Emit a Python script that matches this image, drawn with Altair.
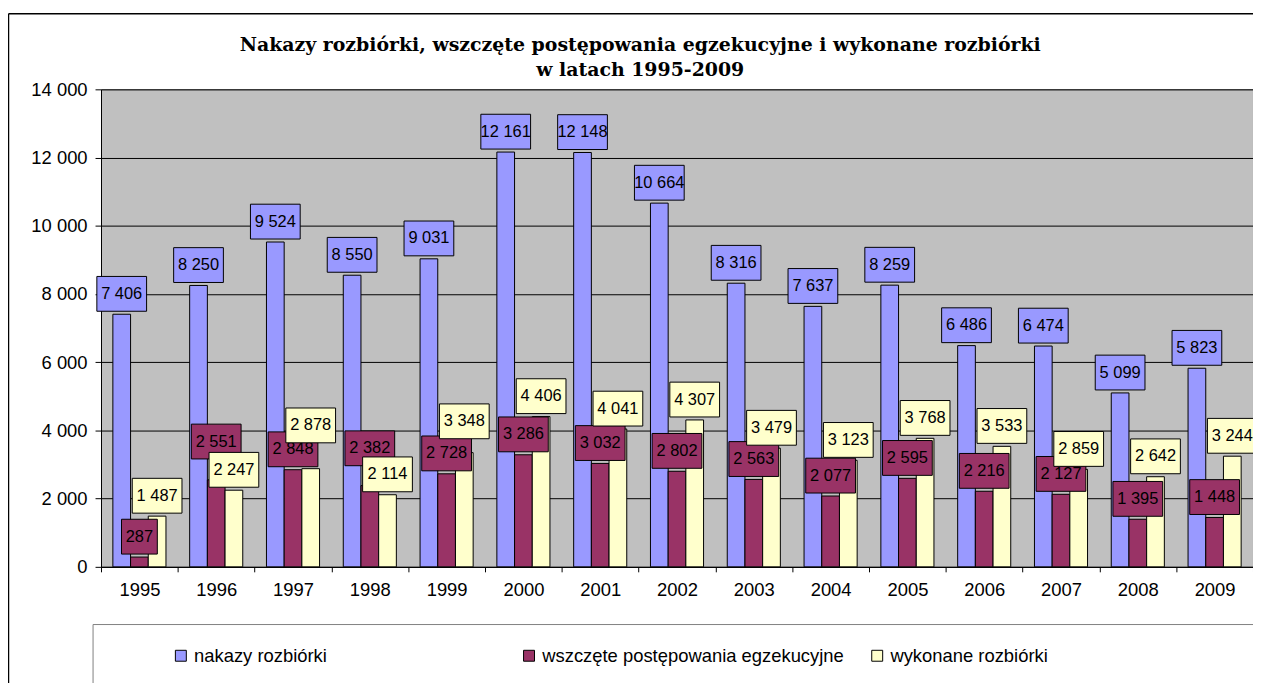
import altair as alt
import pandas as pd

years = [str(y) for y in range(1995, 2010)]
series = ["nakazy rozbiórki", "wszczęte postępowania egzekucyjne", "wykonane rozbiórki"]
nakazy = [7406, 8250, 9524, 8550, 9031, 12161, 12148, 10664, 8316, 7637, 8259, 6486, 6474, 5099, 5823]
wszczete = [287, 2551, 2848, 2382, 2728, 3286, 3032, 2802, 2563, 2077, 2595, 2216, 2127, 1395, 1448]
wykonane = [1487, 2247, 2878, 2114, 3348, 4406, 4041, 4307, 3479, 3123, 3768, 3533, 2859, 2642, 3244]
colors = ["#9999FF", "#993366", "#FFFFCC"]
y_ticks = [0, 2000, 4000, 6000, 8000, 10000, 12000, 14000]
title_lines = ["Nakazy rozbiórki, wszczęte postępowania egzekucyjne i wykonane rozbiórki",
               "w latach 1995-2009"]

# labels that were dragged upwards in the original chart (pixels)
label_nudge_px = {("1996", series[1]): 18, ("1997", series[2]): 23,
                  ("1998", series[1]): 17, ("1999", series[2]): 11}

Y_MAX = 14000
W, H = 1158, 480

rows = []
for i, yr in enumerate(years):
    for s, vals in zip(series, [nakazy, wszczete, wykonane]):
        v = vals[i]
        lab = f"{v:,}".replace(",", " ")
        nudge = label_nudge_px.get((yr, s), 0) * Y_MAX / H
        rows.append({"rok": yr, "seria": s, "wartosc": v, "etykieta": lab,
                     "y_lab": v + nudge, "szer": "w" if len(lab) > 3 else "n"})
df = pd.DataFrame(rows)

FONT = "Liberation Sans"

x_enc = alt.X("rok:N", sort=years,
              scale=alt.Scale(paddingInner=0, paddingOuter=0),
              axis=alt.Axis(title=None, labelAngle=0, tickBand="extent", ticks=True,
                            tickSize=5, tickColor="black", domainColor="black",
                            labelFontSize=18.5, labelFont=FONT, labelColor="black",
                            labelPadding=9, grid=False))
xoff_enc = alt.XOffset("seria:N", sort=series,
                       scale=alt.Scale(domain=series, paddingInner=0, paddingOuter=0.67))
y_scale = alt.Scale(domain=[0, Y_MAX], nice=False)
y_axis = alt.Axis(title=None, values=y_ticks, grid=True, gridColor="#000000",
                  gridWidth=1, tickSize=6, tickColor="black", domainColor="black",
                  labelFontSize=18.5, labelFont=FONT, labelColor="black",
                  labelPadding=8,
                  labelExpr="replace(format(datum.value, ','), ',', ' ')")
y_enc = alt.Y("wartosc:Q", scale=y_scale, axis=y_axis)
y_lab_enc = alt.Y("y_lab:Q", scale=y_scale, axis=y_axis)
fill_scale = alt.Scale(domain=series, range=colors)

bars = alt.Chart(df).mark_bar(stroke="black", strokeWidth=1).encode(
    x=x_enc, xOffset=xoff_enc, y=y_enc,
    fill=alt.Fill("seria:N", sort=series, scale=fill_scale,
                  legend=alt.Legend(title=None, orient="none", legendX=71, legendY=560,
                                    direction="horizontal", columns=3, columnPadding=24,
                                    gridAlign="all",
                                    symbolType="square", symbolSize=121,
                                    symbolStrokeColor="black", symbolStrokeWidth=1,
                                    labelFontSize=18.5, labelFont=FONT, labelColor="black",
                                    labelOffset=4, labelLimit=0)),
)

box_paths = ["M-1,-1.52L1,-1.52L1,-0.12L-1,-0.12Z",
             "M-0.72,-1.52L0.72,-1.52L0.72,-0.12L-0.72,-0.12Z"]

label_layers = []
for s in series:
    base = alt.Chart(df).transform_filter(alt.datum.seria == s)
    box = base.mark_point(filled=True, stroke="black", strokeWidth=1, opacity=1,
                          size=2500).encode(
        x=x_enc, xOffset=xoff_enc, y=y_lab_enc,
        fill=alt.Fill("seria:N", sort=series, scale=fill_scale, legend=None),
        shape=alt.Shape("szer:N", scale=alt.Scale(domain=["w", "n"], range=box_paths),
                        legend=None),
    )
    txt = base.mark_text(dy=-20.5, baseline="middle", align="center", fontSize=16.5,
                         font=FONT, color="black").encode(
        x=x_enc, xOffset=xoff_enc, y=y_lab_enc, text="etykieta:N")
    label_layers += [box, txt]

one = alt.Data(values=[{"a": 1}])
frame_top = alt.Chart(one).mark_rule(color="#000000", strokeWidth=1.5).encode(
    x=alt.value(-93), x2=alt.value(1200), y=alt.value(-76))
frame_left = alt.Chart(one).mark_rule(color="#000000", strokeWidth=1.5).encode(
    x=alt.value(-93), y=alt.value(-76), y2=alt.value(700))
leg_top = alt.Chart(one).mark_rule(color="#808080", strokeWidth=1).encode(
    x=alt.value(-8), x2=alt.value(1200), y=alt.value(538))
leg_left = alt.Chart(one).mark_rule(color="#808080", strokeWidth=1).encode(
    x=alt.value(-8), y=alt.value(538), y2=alt.value(700))

chart = alt.layer(bars, *label_layers, frame_top, frame_left, leg_top, leg_left).properties(
    width=W, height=H,
    autosize=alt.AutoSizeParams(type="none"),
    padding={"left": 93.5, "top": 80, "right": 0, "bottom": 115},
    background="white",
    title=alt.TitleParams(title_lines, anchor="middle", frame="group", dx=-37, dy=67,
                          offset=0, font="DejaVu Serif", fontSize=19, fontWeight="bold",
                          color="black", lineHeight=25),
).configure_view(fill="#C0C0C0", stroke="#808080", strokeWidth=1)

chart.save("out.html", embed_options={"renderer": "svg", "actions": False})
